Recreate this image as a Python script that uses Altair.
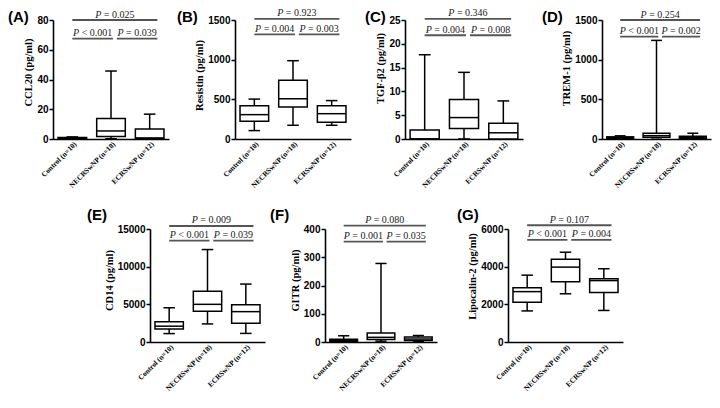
import json
import altair as alt
import pandas as pd

# ---------------- data ----------------
categories = ["Control (n=10)", "NECRSwNP (n=18)", "ECRSwNP (n=12)"]
panel_letters = ["(A)", "(B)", "(C)", "(D)", "(E)", "(F)", "(G)"]
y_titles = ["CCL20 (pg/ml)", "Resistin (pg/ml)", "TGF-β2 (pg/ml)", "TREM-1 (pg/ml)",
            "CD14 (pg/ml)", "GITR (pg/ml)", "Lipocalin-2 (pg/ml)"]
y_max = [80, 1500, 25, 1500, 15000, 400, 6000]
y_step = [20, 500, 5, 500, 5000, 100, 2000]

# box statistics per panel, order = categories
box_min = [[0.2, 0.2, 0.1], [106, 173, 173], [0, 0, 0], [5, 15, 5],
           [1116, 2400, 1140], [1, 3, 2], [1650, 2560, 1675]]
box_q1 = [[0.4, 1.7, 0.3], [225, 402, 210], [0, 2.2, 0], [9, 22, 9],
          [1736, 4091, 2479], [2.5, 8.5, 5], [2117, 3200, 2633]]
box_med = [[0.7, 5.4, 0.7], [307, 507, 319], [0, 4.5, 1.3], [18, 42, 18],
           [2100, 5000, 4030], [4.5, 16.5, 10.5], [2675, 3975, 3260]]
box_q3 = [[1.0, 13.7, 6.7], [420, 740, 420], [1.9, 8.3, 3.3], [27, 73, 35],
          [2686, 6736, 4959], [10, 32, 18], [2875, 4400, 3360]]
box_max = [[1.4, 45.7, 16.7], [503, 987, 484], [17.7, 14.0, 8.0], [40, 1243, 73],
           [4545, 12273, 7690], [22, 278, 23], [3550, 4767, 3890]]

# significance annotations
p_top = ["= 0.025", "= 0.923", "= 0.346", "= 0.254", "= 0.009", "= 0.080", "= 0.107"]
p_left = ["< 0.001", "= 0.004", "= 0.004", "< 0.001", "< 0.001", "= 0.001", "< 0.001"]
p_right = ["= 0.039", "= 0.003", "= 0.008", "= 0.002", "= 0.039", "= 0.035", "= 0.004"]
bracket_top_y = [80, 1515, 25.25, 1500, 15400, 412, 6200]
bracket_low_y = [67.5, 1320, 21.8, 1290, 13450, 355, 5420]
bracket_top_x = [1.0, 3.2]
bracket_left_x = [1.0, 2.05]
bracket_right_x = [2.15, 3.2]

# ---------------- layout (pixels in the figure, not data) ----------------
W, H = 704, 387
x_range = [[45, 161], [227, 343], [397, 515], [594, 703],
           [142, 257], [317, 429], [500, 615]]
y_range = [[131, 12]] * 4 + [[334, 221]] * 3
title_y = [64, 67, 60, 60, 272, 272, 268]
letter_xy = [(0, 2), (169, 2), (357, 2), (534, 2), (79, 200), (262, 200), (449, 200)]

SERIF = "Liberation Serif"
SANS = "Liberation Sans"
label_expr = json.dumps(categories) + "[datum.value - 1]"


def panel(i):
    pos = [1, 2, 3]
    box = pd.DataFrame({
        "pos": pos,
        "lo": [p - 0.37 for p in pos],
        "hi": [p + 0.37 for p in pos],
        "clo": [p - 0.15 for p in pos],
        "chi": [p + 0.15 for p in pos],
        "vmin": box_min[i], "q1": box_q1[i], "med": box_med[i],
        "q3": box_q3[i], "vmax": box_max[i],
    })
    br = pd.DataFrame({
        "x1": [bracket_top_x[0], bracket_left_x[0], bracket_right_x[0]],
        "x2": [bracket_top_x[1], bracket_left_x[1], bracket_right_x[1]],
        "y": [bracket_top_y[i], bracket_low_y[i], bracket_low_y[i]],
        "cmp": [p_top[i], p_left[i], p_right[i]],
    })
    br["xm"] = (br["x1"] + br["x2"]) / 2

    xs = alt.Scale(domain=[0.5, 3.5], range=x_range[i], nice=False, zero=False)
    ys = alt.Scale(domain=[0, y_max[i]], range=y_range[i], nice=False, zero=True)
    xax = alt.Axis(orient="bottom", offset=y_range[i][0] - H,
                   values=[1, 2, 3], labelExpr=label_expr, title=None, ticks=False,
                   grid=False, labelAngle=315, labelAlign="right", labelBaseline="top",
                   labelPadding=1, labelFont=SERIF, labelFontWeight="bold",
                   labelFontSize=7.3, labelColor="black", labelOverlap=False,
                   labelFlush=False, domainColor="black", domainWidth=1.6)
    yax = alt.Axis(orient="left", offset=-x_range[i][0],
                   values=list(range(0, y_max[i] + 1, y_step[i])), format="d",
                   title=y_titles[i], titleFont=SERIF, titleFontWeight="bold",
                   titleFontSize=10.5, titleColor="black", titlePadding=3,
                   titleY=title_y[i], grid=False, ticks=True, tickSize=4,
                   tickWidth=1.5, tickColor="black", labelFont=SANS,
                   labelFontWeight="bold", labelFontSize=10, labelColor="black",
                   labelPadding=1, domainColor="black", domainWidth=1.6)

    def X(f, axis=None):
        return alt.X(f, type="quantitative", scale=xs, axis=axis)

    def Y(f, axis=None):
        return alt.Y(f, type="quantitative", scale=ys, axis=axis)

    b = alt.Chart(box)
    stroke = dict(color="black", strokeWidth=1.5)
    whisk = b.mark_rule(**stroke).encode(x=X("pos"), y=Y("vmin"), y2="vmax:Q")
    cap_lo = b.mark_rule(**stroke).encode(x=X("clo"), x2="chi:Q", y=Y("vmin"))
    cap_hi = b.mark_rule(**stroke).encode(x=X("clo"), x2="chi:Q", y=Y("vmax"))
    rect = b.mark_rect(fill="white", stroke="black", strokeWidth=1.5).encode(
        x=X("lo", xax), x2="hi:Q", y=Y("q1", yax), y2="q3:Q")
    med = b.mark_rule(**stroke).encode(x=X("lo"), x2="hi:Q", y=Y("med"))

    c = alt.Chart(br)
    rules = c.mark_rule(color="#555555", strokeWidth=1.8).encode(
        x=X("x1"), x2="x2:Q", y=Y("y"))
    tp = c.mark_text(font=SERIF, fontSize=10, fontStyle="italic", align="left",
                     baseline="alphabetic", dx=-19.6, dy=-2.5, color="#222222").encode(
        x=X("xm"), y=Y("y"), text=alt.value("P"))
    tr = c.mark_text(font=SERIF, fontSize=10, align="left",
                     baseline="alphabetic", dx=-11.0, dy=-2.5, color="#222222").encode(
        x=X("xm"), y=Y("y"), text="cmp:N")

    lab = alt.Chart(pd.DataFrame({"t": [panel_letters[i]]})).mark_text(
        font=SANS, fontWeight="bold", fontSize=15, align="left", baseline="top",
        color="black").encode(x=alt.value(letter_xy[i][0]),
                              y=alt.value(letter_xy[i][1]), text="t:N")
    return [whisk, cap_lo, cap_hi, rect, med, rules, tp, tr, lab]


layers = []
for i in range(7):
    layers.extend(panel(i))

chart = alt.layer(*layers).resolve_scale(
    x="independent", y="independent").resolve_axis(
    x="independent", y="independent").properties(
    width=W, height=H, padding=0, background="white",
    autosize=alt.AutoSizeParams(type="none"),
).configure_view(strokeWidth=0)

chart.save("out.html", embed_options={"renderer": "svg", "actions": False})
